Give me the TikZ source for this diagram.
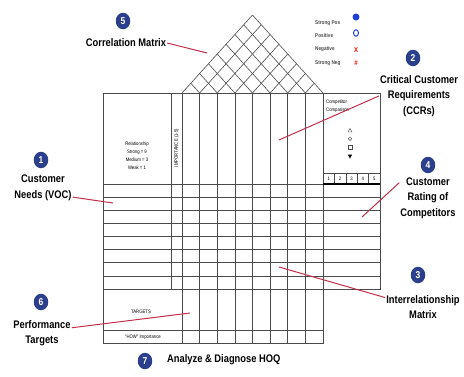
\documentclass[tikz,border=0pt]{standalone}
\usepackage{fontspec}
\setmainfont{Liberation Sans}[FakeStretch=0.85]
\usetikzlibrary{arrows.meta,shapes.geometric}
\definecolor{navy}{HTML}{2B3F8C}
\definecolor{leader}{HTML}{C0304A}
\definecolor{gridink}{HTML}{4A4A4A}
\definecolor{legblue}{HTML}{1F3FD6}

\begin{document}
\begin{tikzpicture}[x=1pt,y=-1pt,
  callout/.style={font=\fontsize{11}{15.5}\selectfont\bfseries,align=center,inner sep=1pt},
  num/.style={ellipse,fill=navy,text=white,font=\fontsize{10}{10}\selectfont\bfseries,minimum width=14.5pt,minimum height=16.5pt,inner sep=0pt},
  lead/.style={draw=leader,line width=1pt},
  grid/.style={draw=gridink,line width=.6pt},
  tiny/.style={font=\fontsize{5}{8}\selectfont,align=center,inner sep=0pt},
  legend/.style={font=\fontsize{5.5}{6}\selectfont\bfseries,text=gridink,anchor=west,inner sep=0pt}]
\useasboundingbox (0,0) rectangle (464,376);
% house body
\draw[grid] (103,93) rectangle (323,343);
\draw[grid] (323,93) rectangle (380,289);
\draw[grid] (171,93) -- (171,289);
\foreach \i in {0,...,7} \draw[grid] ({182+\i*17.625},93) -- ({182+\i*17.625},343);
\foreach \j in {0,...,8} \draw[grid] (103,{184+\j*13.125}) -- (380,{184+\j*13.125});
\draw[grid] (103,330) -- (323,330);
% roof
\foreach \i in {0,...,8} {
  \draw[grid] ({182+\i*17.625},93) -- ++({(8-\i)*8.8125},{-(8-\i)*8.8125*1.106});
  \draw[grid] ({182+\i*17.625},93) -- ++({-\i*8.8125},{-\i*8.8125*1.106});
}
% competitor scale
\draw[grid] (323,173) -- (380,173);
\foreach \k in {1,...,4} \draw[grid] ({323+\k*11.4},173) -- ({323+\k*11.4},184);
\foreach \k in {1,...,5} \node[tiny] (rate\k) at ({323+(\k-0.5)*11.4},178.5) {\k};
\draw[line width=1.3pt] (323,184) -- (380,184);
\node[tiny,anchor=north west,align=left] (comp) at (326,100) {Competitor\\Comparison};
\draw[gridink,line width=.4pt] (348,132) -- (350,128.5) -- (352,132) -- cycle;
\draw[gridink,line width=.4pt] (350,138.7) circle (1.8);
\draw[gridink,line width=.4pt] (348.2,145.3) rectangle (351.8,148.9);
\fill (347.8,154.5) -- (352.2,154.5) -- (350,158.5) -- cycle;
% texts in the grid
\node[tiny] (rel) at (137,156) {Relationship\\Strong = 9\\Medium = 3\\Weak = 1};
\node[tiny,rotate=90] (imp) at (176.5,148) {IMPORTANCE (1-5)};
\node[tiny] (tgt) at (141,312) {TARGETS};
\node[tiny] (howimp) at (143,337) {“HOW” Importance};
% legend
\node[legend] (spos) at (315,23) {Strong Pos};
\node[legend] (pos) at (315,36) {Positive};
\node[legend] (neg) at (315,49) {Negative};
\node[legend] (sneg) at (315,63) {Strong Neg};
\node[circle,fill=legblue,minimum width=6pt,minimum height=7pt,inner sep=0pt] (mspos) at (356,17) {};
\node[ellipse,draw=legblue,line width=1pt,minimum width=5pt,minimum height=6.5pt,inner sep=0pt] (mpos) at (356,33) {};
\node[text=red,font=\fontsize{7}{7}\selectfont\bfseries,inner sep=0pt] (mneg) at (356,50) {X};
\node[text=red,font=\fontsize{7}{7}\selectfont\bfseries\itshape,inner sep=0pt] (msneg) at (356,63) {\#};
% callouts
\node[num] (n5) at (123,21) {5};
\node[callout] (corr) at (126,43) {Correlation Matrix};
\coordinate (corrpt) at (207,53);
\draw[lead] (corr.east) -- (corrpt);
\node[num] (n2) at (413,58) {2};
\node[callout] (ccr) at (419,96) {Critical Customer\\Requirements\\(CCRs)};
\coordinate (ccrpt) at (279,140);
\draw[lead] (ccr.west) -- (ccrpt);
\node[num] (n1) at (41,160) {1};
\node[callout] (voc) at (43,188) {Customer\\Needs (VOC)};
\coordinate (vocpt) at (113,203);
\draw[lead] (voc.-17) -- (vocpt);
\node[num] (n4) at (428,165) {4};
\node[callout] (rating) at (428,198) {Customer\\Rating of\\Competitors};
\coordinate (ratingpt) at (362,217);
\draw[lead] (rating.152) -- (ratingpt);
\node[num] (n3) at (418,275) {3};
\node[callout] (irm) at (423,307) {Interrelationship\\Matrix};
\coordinate (irmpt) at (279,267);
\draw[lead] (irm.166) -- (irmpt);
\node[num] (n6) at (41,302) {6};
\node[callout] (perf) at (42,333) {Performance\\Targets};
\coordinate (perfpt) at (190,313);
\draw[lead] (perf.10) -- (perfpt);
\node[num] (n7) at (145,361) {7};
\node[callout,anchor=west] (anl) at (166,360) {Analyze \& Diagnose HOQ};
\end{tikzpicture}
\end{document}
